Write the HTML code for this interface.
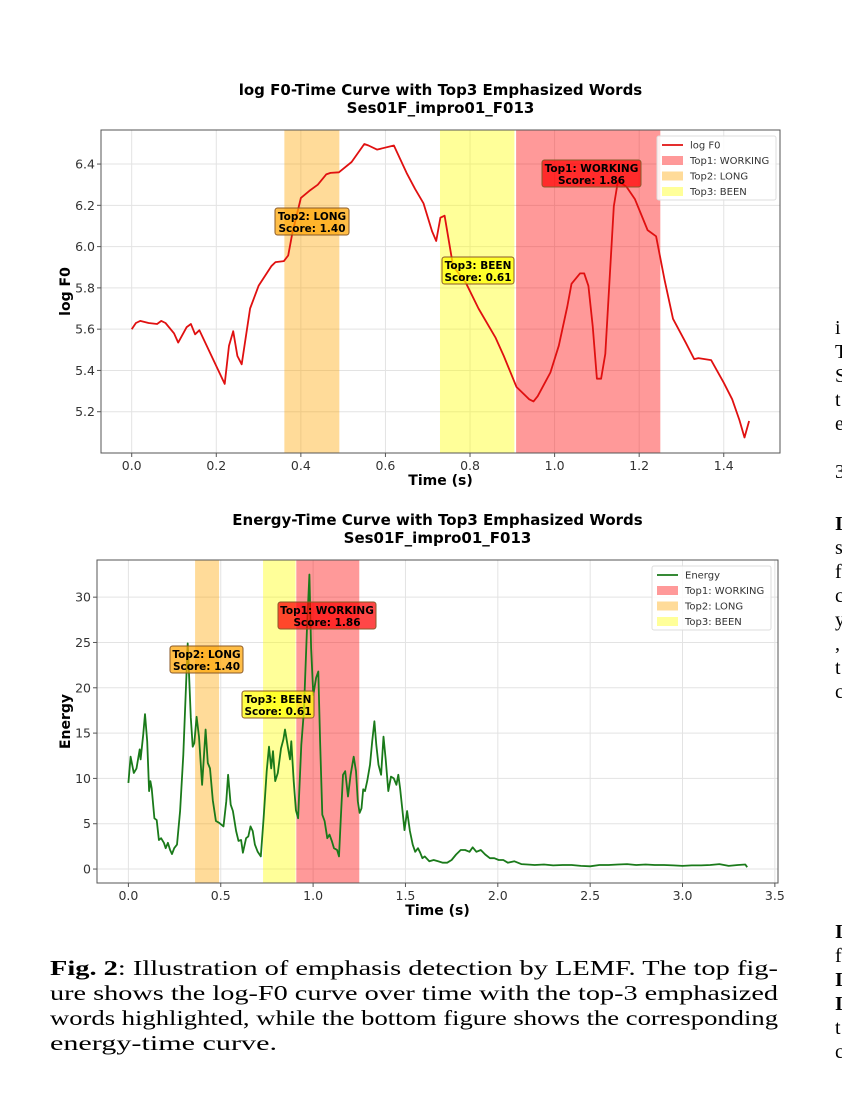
<!DOCTYPE html>
<html><head><meta charset="utf-8"><style>
html,body{margin:0;padding:0;background:#fff;}
svg{display:block;}
</style></head><body>
<svg id="fig" width="842" height="1104" viewBox="0 0 842 1104" xmlns="http://www.w3.org/2000/svg" font-family="DejaVu Sans, Liberation Sans, sans-serif">
<g id="top"></g>
<g id="bot"></g>
<g font-family="Liberation Serif, serif" font-size="21" fill="#000">
<text x="50" y="975" textLength="728" lengthAdjust="spacingAndGlyphs"><tspan font-weight="bold">Fig. 2</tspan>: Illustration of emphasis detection by LEMF. The top fig-</text>
<text x="50" y="1000" textLength="728" lengthAdjust="spacingAndGlyphs">ure shows the log-F0 curve over time with the top-3 emphasized</text>
<text x="50" y="1025" textLength="728" lengthAdjust="spacingAndGlyphs">words highlighted, while the bottom figure shows the corresponding</text>
<text x="50" y="1050" textLength="227" lengthAdjust="spacingAndGlyphs">energy-time curve.</text>
</g>
<g font-family="Liberation Serif, serif" font-size="20" fill="#000">
<text x="835" y="334">i</text><text x="835" y="358">T</text><text x="835" y="382">S</text><text x="835" y="406">t</text><text x="835" y="430">e</text>
<text x="835" y="478">3</text><text x="835" y="530" font-weight="bold">I</text><text x="835" y="554">s</text><text x="835" y="578">f</text><text x="835" y="602">c</text><text x="835" y="626">y</text><text x="835" y="650">,</text><text x="835" y="674">t</text><text x="835" y="698">c</text>
<text x="835" y="938" font-weight="bold">I</text><text x="835" y="962">f</text><text x="835" y="986" font-weight="bold">I</text><text x="835" y="1010" font-weight="bold">I</text><text x="835" y="1034">t</text><text x="835" y="1058">c</text>
</g>
</svg>
<script>
// ---- top chart data ----
const f0Times = [0,0.01,0.02,0.04,0.06,0.07,0.08,0.10,0.11,0.13,0.14,0.15,0.16,0.22,0.23,0.24,0.25,0.26,0.28,0.30,0.33,0.34,0.36,0.37,0.38,0.40,0.42,0.44,0.46,0.47,0.49,0.52,0.55,0.56,0.58,0.62,0.65,0.67,0.69,0.71,0.72,0.73,0.74,0.76,0.79,0.82,0.86,0.88,0.91,0.92,0.94,0.95,0.96,0.99,1.01,1.03,1.04,1.06,1.07,1.08,1.09,1.10,1.11,1.12,1.14,1.15,1.17,1.19,1.22,1.24,1.26,1.28,1.31,1.33,1.34,1.37,1.40,1.42,1.437,1.449,1.46];
const f0Values = [5.60,5.63,5.64,5.63,5.625,5.64,5.63,5.58,5.535,5.61,5.625,5.575,5.595,5.335,5.52,5.59,5.47,5.43,5.70,5.81,5.905,5.925,5.93,5.957,6.067,6.236,6.27,6.30,6.35,6.357,6.36,6.41,6.497,6.49,6.47,6.49,6.357,6.28,6.21,6.075,6.027,6.14,6.15,5.905,5.825,5.70,5.56,5.47,5.32,5.30,5.26,5.25,5.275,5.39,5.52,5.71,5.82,5.87,5.87,5.81,5.615,5.36,5.36,5.48,6.195,6.32,6.29,6.23,6.08,6.05,5.84,5.65,5.535,5.455,5.46,5.45,5.34,5.26,5.16,5.075,5.155];
const f0YTicks = [5.2,5.4,5.6,5.8,6.0,6.2,6.4];
const f0XTicks = [0.0,0.2,0.4,0.6,0.8,1.0,1.2,1.4];
// ---- bottom chart data ----
const enTimes = [0,.012,.029,.044,.061,.066,.080,.090,.102,.112,.119,.126,.141,.153,.165,.177,.192,.202,.214,.226,.236,.248,.263,.280,.297,.311,.321,.328,.338,.348,.357,.369,.382,.399,.408,.418,.430,.442,.457,.474,.491,.515,.530,.540,.554,.566,.583,.596,.610,.620,.637,.649,.661,.673,.685,.700,.717,.732,.749,.761,.773,.783,.795,.809,.826,.839,.848,.863,.875,.882,.895,.907,.919,.936,.950,.967,.980,.989,1.001,1.016,1.028,1.038,1.050,1.062,1.077,1.089,1.101,1.113,1.130,1.140,1.150,1.162,1.174,1.189,1.203,1.220,1.232,1.242,1.252,1.262,1.271,1.281,1.293,1.308,1.320,1.332,1.342,1.354,1.368,1.381,1.393,1.407,1.422,1.437,1.451,1.461,1.471,1.485,1.495,1.509,1.524,1.539,1.553,1.568,1.580,1.592,1.604,1.629,1.653,1.677,1.702,1.726,1.750,1.774,1.799,1.823,1.847,1.864,1.884,1.908,1.932,1.957,1.981,2.005,2.030,2.054,2.090,2.127,2.16,2.2,2.25,2.3,2.35,2.4,2.45,2.5,2.55,2.6,2.65,2.7,2.75,2.8,2.85,2.9,2.95,3.0,3.05,3.1,3.15,3.2,3.25,3.3,3.34,3.35];
const enValues = [9.5,12.4,10.6,11.1,13.2,12.1,14.8,17.1,14.1,8.6,9.7,8.9,5.6,5.4,3.2,3.4,2.9,2.3,2.9,2.1,1.65,2.3,2.7,6.4,12.6,19.6,24.9,21.6,16.7,13.5,13.9,16.8,14.6,9.3,12.2,15.4,11.7,11.1,7.6,5.3,5.1,4.7,7.5,10.4,7.1,6.4,4.2,3.1,3.2,1.8,3.4,3.6,4.7,4.2,2.7,1.9,1.4,5.6,10.8,13.5,11.1,13.0,9.7,10.6,13.3,14.3,15.4,13.5,12.1,14.1,9.7,6.5,5.6,13.7,17.4,26.6,32.5,24.4,19.2,21.1,21.8,14.1,6.0,5.3,3.4,3.8,3.1,2.3,2.1,1.4,5.6,10.4,10.8,8.0,10.4,12.4,10.8,7.5,6.2,6.7,8.8,8.6,9.7,11.5,14.1,16.3,13.7,11.5,10.4,14.6,12.1,8.6,10.2,10.0,9.3,10.4,8.9,6.2,4.3,6.4,4.2,2.7,1.9,2.3,1.8,1.2,1.4,0.85,1.0,0.85,0.7,0.7,1.0,1.6,2.1,2.1,1.9,2.4,1.9,2.1,1.6,1.2,1.2,1.0,1.0,0.7,0.85,0.55,0.5,0.45,0.5,0.4,0.45,0.45,0.35,0.3,0.45,0.45,0.5,0.55,0.45,0.5,0.45,0.45,0.4,0.35,0.4,0.4,0.45,0.55,0.35,0.45,0.5,0.2];
const enYTicks = [0,5,10,15,20,25,30];
const enXTicks = [0.0,0.5,1.0,1.5,2.0,2.5,3.0,3.5];
// ---- shared highlight data ----
const bandNames = ['Top1: WORKING','Top2: LONG','Top3: BEEN'];
const bandStarts = [0.909,0.361,0.729];
const bandEnds = [1.25,0.491,0.905];
const bandScores = ['1.86','1.40','0.61'];

const NS='http://www.w3.org/2000/svg';
function mk(parent,tag,attrs,text){const e=document.createElementNS(NS,tag);for(const k in attrs)e.setAttribute(k,attrs[k]);if(text!==undefined)e.textContent=text;parent.appendChild(e);return e;}
const bandFill=['rgba(255,0,0,0.4)','rgba(255,165,0,0.4)','rgba(255,255,0,0.4)'];
const boxFill=['rgba(255,0,0,0.72)','rgba(255,165,0,0.72)','rgba(255,255,0,0.72)'];

function chart(g,cfg){
  const {L,R,T,B,x0,x1,y0,y1}=cfg;
  const sx=v=>L+(v-x0)/(x1-x0)*(R-L);
  const sy=v=>B-(v-y0)/(y1-y0)*(B-T);
  cfg.xt.forEach(t=>{const l=mk(g,'line',{x1:sx(t),x2:sx(t),y1:T,y2:B,stroke:'#e3e3e3','stroke-width':1});
    
    });
  cfg.yt.forEach(t=>{const l=mk(g,'line',{x1:L,x2:R,y1:sy(t),y2:sy(t),stroke:'#e3e3e3','stroke-width':1});
    
    });
  for(let i=0;i<3;i++){
    const r=mk(g,'rect',{x:sx(bandStarts[i]),y:T,width:sx(bandEnds[i])-sx(bandStarts[i]),height:B-T,fill:bandFill[i]});
    
    
  }
  const d=cfg.xs.map((t,i)=>(i?'L':'M')+sx(t).toFixed(1)+','+sy(cfg.ys[i]).toFixed(1)).join('');
  const p=mk(g,'path',{d:d,fill:'none',stroke:cfg.color,'stroke-width':1.8,'stroke-linejoin':'round'});
  
  
  const f=mk(g,'rect',{x:L,y:T,width:R-L,height:B-T,fill:'none',stroke:'#555','stroke-width':1});
  
  
  cfg.xt.forEach(t=>{
    mk(g,'line',{x1:sx(t),x2:sx(t),y1:B,y2:B+4,stroke:'#555'});
    const tx=mk(g,'text',{x:sx(t),y:B+17,'text-anchor':'middle','font-size':12.5,fill:'#333'},t.toFixed(1));
    
    
  });
  cfg.yt.forEach(t=>{
    mk(g,'line',{x1:L-4,x2:L,y1:sy(t),y2:sy(t),stroke:'#555'});
    const tx=mk(g,'text',{x:L-6,y:sy(t)+4.5,'text-anchor':'end','font-size':12.5,fill:'#333'},t.toFixed(cfg.yd));
    
    
  });
  const xl=mk(g,'text',{x:(L+R)/2,y:B+32,'text-anchor':'middle','font-size':14,'font-weight':'bold'},'Time (s)');
  
  
  const yl=mk(g,'text',{x:cfg.ylx,y:(T+B)/2,'text-anchor':'middle','font-size':14,'font-weight':'bold',transform:`rotate(-90 ${cfg.ylx} ${(T+B)/2})`},cfg.ylabel);
  
  
  const t1=mk(g,'text',{x:(L+R)/2,y:T-35,'text-anchor':'middle','font-size':15,'font-weight':'bold'},cfg.title);
  
  
  const t2=mk(g,'text',{x:(L+R)/2,y:T-17,'text-anchor':'middle','font-size':15,'font-weight':'bold'},'Ses01F_impro01_F013');
  
  
  cfg.ann.forEach((a,i)=>{
    const ag=mk(g,'g',{});
    
    
    mk(ag,'rect',{x:a[0],y:a[1],width:a[2],height:27,rx:2.5,fill:boxFill[i],stroke:'#8a5a2a','stroke-width':1});
    const cx=a[0]+a[2]/2;
    mk(ag,'text',{x:cx,y:a[1]+12,'text-anchor':'middle','font-size':10.5,'font-weight':'bold'},bandNames[i]);
    mk(ag,'text',{x:cx,y:a[1]+24,'text-anchor':'middle','font-size':10.5,'font-weight':'bold'},'Score: '+bandScores[i]);
  });
  const [lx,ly]=cfg.leg;
  const lg=mk(g,'g',{});
  
  
  mk(lg,'rect',{x:lx,y:ly,width:119,height:64,rx:2,fill:'rgba(255,255,255,0.85)',stroke:'#ddd'});
  const labels=[cfg.lineLabel].concat(bandNames);
  labels.forEach((lab,i)=>{
    const yy=ly+9+i*15.5;
    const e=mk(lg,'g',{});
    
    
    if(i===0) mk(e,'line',{x1:lx+5,x2:lx+26,y1:yy,y2:yy,stroke:cfg.color,'stroke-width':1.8});
    else mk(e,'rect',{x:lx+5,y:yy-4.5,width:21,height:9,fill:bandFill[i-1]});
    mk(e,'text',{x:lx+33,y:yy+3.5,'font-size':10,fill:'#333'},lab);
  });
}
chart(document.getElementById('top'),{L:101,R:780,T:130,B:453,x0:-0.0726,x1:1.533,y0:5.0,y1:6.565,
  xs:f0Times,ys:f0Values,xt:f0XTicks,yt:f0YTicks,yd:1,color:'#e01010',lineName:'log-f0-line',lineLabel:'log F0',
  ylabel:'log F0',ylx:70,title:'log F0-Time Curve with Top3 Emphasized Words',
  ann:[[542,160,99],[275,208,74],[442,257,72]],leg:[657,136]});
chart(document.getElementById('bot'),{L:97,R:778,T:560,B:883,x0:-0.17,x1:3.517,y0:-1.54,y1:34.1,
  xs:enTimes,ys:enValues,xt:enXTicks,yt:enYTicks,yd:0,color:'#1a7a1a',lineName:'energy-line',lineLabel:'Energy',
  ylabel:'Energy',ylx:70,title:'Energy-Time Curve with Top3 Emphasized Words',
  ann:[[278,602,98],[170,646,73],[242,691,72]],leg:[652,566]});
</script>
</body></html>
